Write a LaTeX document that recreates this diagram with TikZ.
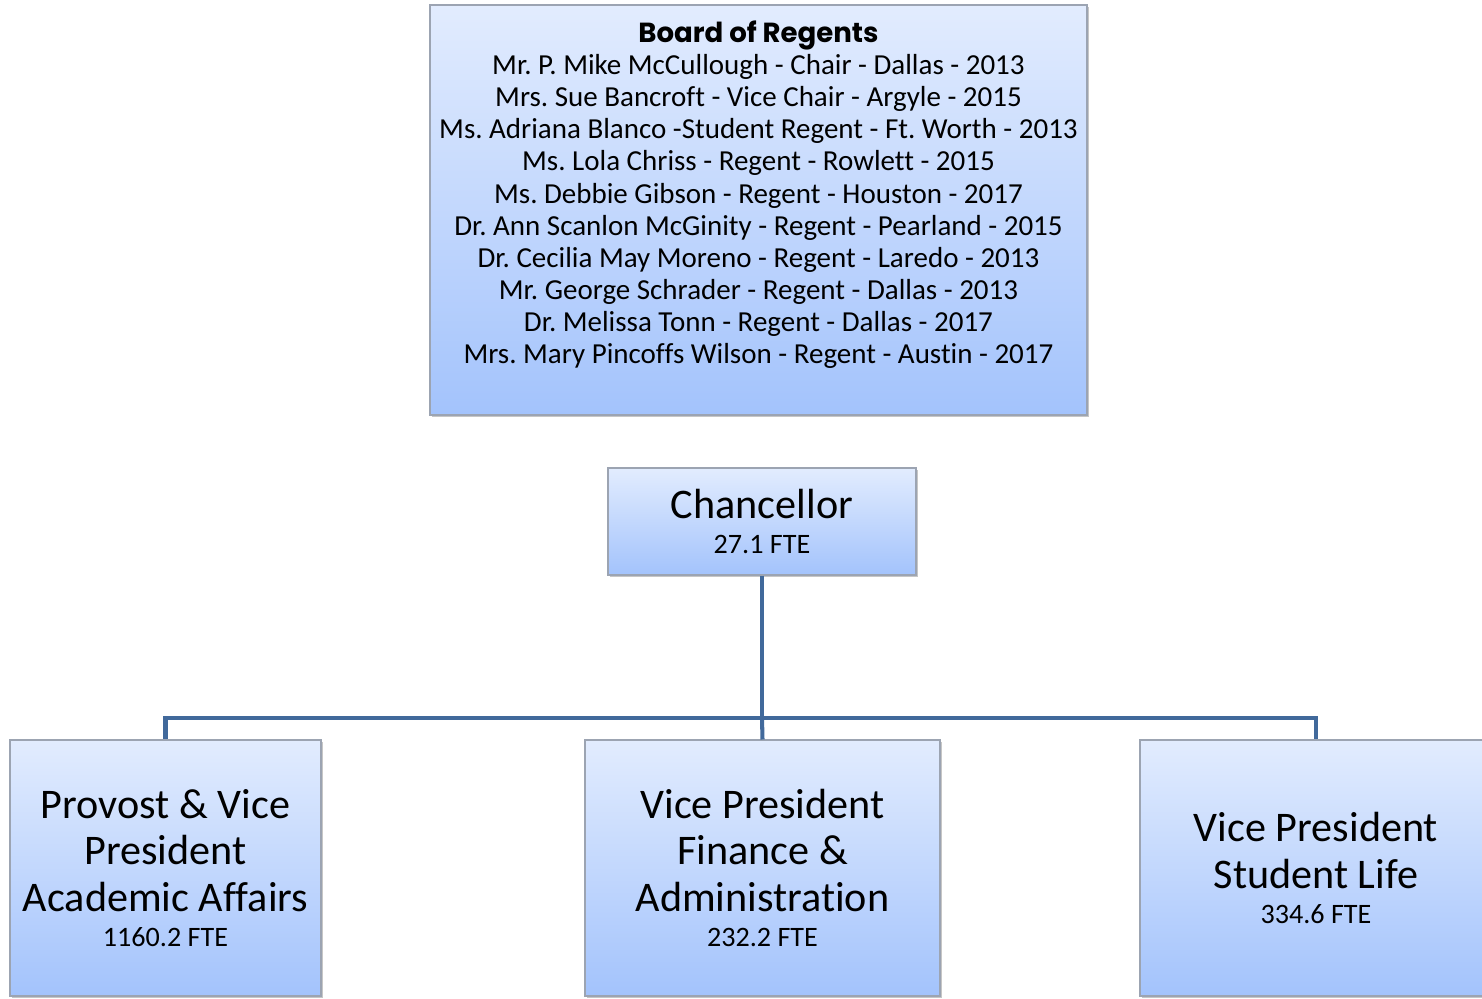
\documentclass[tikz,border=0pt]{standalone}
\usepackage{fontspec}
\setmainfont{Carlito}[Ligatures=NoCommon]
\newfontfamily\titlefont{Poppins}
\usetikzlibrary{positioning}
\usetikzlibrary{shadows}
\definecolor{boxtop}{HTML}{E2ECFE}
\definecolor{boxbot}{HTML}{A3C3FC}
\definecolor{boxline}{HTML}{9CA4B2}
\definecolor{linkblue}{HTML}{41699B}
\tikzset{orgbox/.style = {draw=boxline, line width=0.6pt, top color=boxtop, bottom color=boxbot,
                          align=center, inner sep=0, font=\bigtxt,
                          drop shadow={shadow xshift=1.2pt, shadow yshift=-1.4pt, opacity=0.45}}}
\tikzset{link/.style = {draw=linkblue, line width=2.3pt}}
\newcommand{\bigtxt}{\frenchspacing\fontsize{24}{26.5}\selectfont}
\newcommand{\ftetxt}{\fontsize{16}{18}\selectfont}

\begin{document}
\begin{tikzpicture}
      \useasboundingbox (0, 0) rectangle (29.64, -19.96);

      \node [orgbox, minimum width = 13.14cm, minimum height = 8.2cm] (board) at (15.17, -4.2) {};
      \node [align=center, font=\frenchspacing\fontsize{16.5}{18.3}\selectfont, below = 0.2cm of board.north] (regents)
        {{\titlefont\bfseries\fontsize{15.7}{18.3}\selectfont Board of Regents}\\
         Mr. P. Mike McCullough - Chair - Dallas - 2013\\
         Mrs. Sue Bancroft - Vice Chair - Argyle - 2015\\
         Ms. Adriana Blanco -Student Regent - Ft. Worth - 2013\\
         Ms. Lola Chriss - Regent - Rowlett - 2015\\
         Ms. Debbie Gibson - Regent - Houston - 2017\\
         Dr. Ann Scanlon McGinity - Regent - Pearland - 2015\\
         Dr. Cecilia May Moreno - Regent - Laredo - 2013\\
         Mr. George Schrader - Regent - Dallas - 2013\\
         Dr. Melissa Tonn - Regent - Dallas - 2017\\
         Mrs. Mary Pincoffs Wilson - Regent - Austin - 2017};

      \node [orgbox, minimum width = 6.16cm, minimum height = 2.14cm] (chancellor) at (15.24, -10.43)
        {Chancellor\\[-6.3pt] \ftetxt 27.1 FTE};

      \node [orgbox, minimum width = 6.22cm, minimum height = 5.12cm] (provost) at (3.31, -17.36)
        {Provost \& Vice\\ President\\ Academic Affairs\\[-6.3pt] \ftetxt 1160.2 FTE};
      \node [orgbox, minimum width = 7.1cm, minimum height = 5.12cm] (finance) at (15.25, -17.36)
        {Vice President\\ Finance \&\\ Administration\\[-6.3pt] \ftetxt 232.2 FTE};
      \node [orgbox, minimum width = 7.04cm, minimum height = 5.12cm] (studentlife) at (26.32, -17.36)
        {Vice President\\ Student Life\\[-6.3pt] \ftetxt 334.6 FTE};

      \coordinate (bus) at (15.24, -14.36);
      \draw [link] (chancellor.south) -- (bus);
      \draw [link] (bus) -| (provost.north);
      \draw [link] (bus) -- (finance.north);
      \draw [link] (bus) -| (studentlife.north);
    \end{tikzpicture}
\end{document}
